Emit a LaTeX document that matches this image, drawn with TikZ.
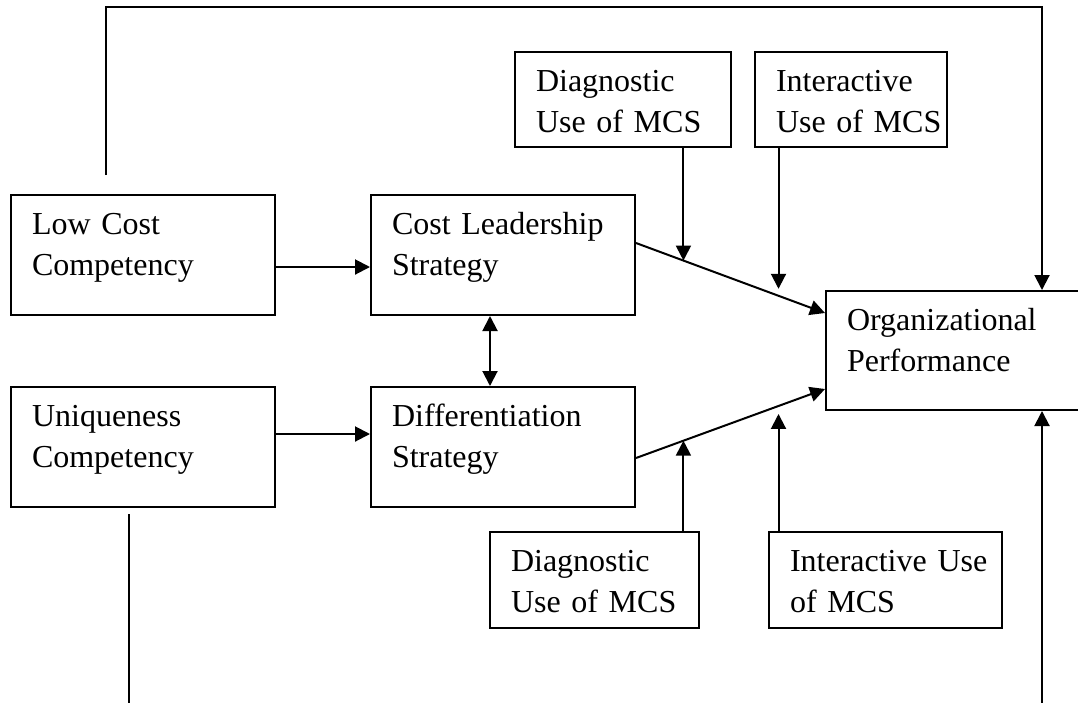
\documentclass[tikz,border=0pt]{standalone}
\usepackage{fontspec}
\setmainfont{Liberation Serif}
\usetikzlibrary{arrows.meta, calc}

\begin{document}
\begin{tikzpicture}[x=1pt, y=-1pt,
  box/.style={draw, line width=2pt, anchor=north west, inner sep=0pt,
    text height=39pt, font=\fontsize{32}{41}\selectfont,
    execute at begin node={\leftskip=21pt}},
  wh/.style 2 args={text width=#1pt, text depth=#2pt-39pt},
  arr/.style={line width=2pt, -{Triangle[length=15pt,width=15pt]}},
  darr/.style={line width=2pt, {Triangle[length=15pt,width=15pt]}-{Triangle[length=15pt,width=15pt]}}]
  \useasboundingbox (0,0) rectangle (1078,702);
  % Kompetenzen und Strategien
  \node[box, wh={264}{120}] (lowcost) at (10,194) {Low Cost\\Competency};
  \node[box, wh={264}{120}] (unique) at (10,386) {Uniqueness\\Competency};
  \node[box, wh={264}{120}] (costlead) at (370,194) {Cost Leadership\\Strategy};
  \node[box, wh={264}{120}] (diff) at (370,386) {Differentiation\\Strategy};
  % MCS
  \node[box, wh={216}{95}] (diagtop) at (514,51) {Diagnostic\\Use of MCS};
  \node[box, wh={192}{95}] (intertop) at (754,51) {Interactive\\Use of MCS};
  \node[box, wh={209}{96}] (diagbot) at (489,531) {Diagnostic\\Use of MCS};
  \node[box, wh={233}{96}] (interbot) at (768,531) {Interactive Use\\of MCS};
  % Performance
  \node[box, wh={270}{119}] (org) at (825,290) {Organizational\\Performance};

  \draw[arr] ([yshift=-12pt]lowcost.east) -- ([yshift=-12pt]costlead.west);
  \draw[arr] ([yshift=13pt]unique.east) -- ([yshift=13pt]diff.west);
  \draw[darr] ([xshift=-13pt]costlead.south) -- ([xshift=-13pt]diff.north);

  \draw[arr] ([yshift=12pt]costlead.east) -- ([yshift=-23pt]org.north west)
    coordinate[pos=0.251] (m1) coordinate[pos=0.754] (m2);
  \draw[arr] (diagtop.south -| m1) -- (m1);
  \draw[arr] (intertop.south -| m2) -- ([yshift=7pt]m2);
  \draw[arr] ([yshift=-11pt]diff.east) -- ([yshift=22pt]org.south west)
    coordinate[pos=0.251] (m3) coordinate[pos=0.754] (m4);
  \draw[arr] (diagbot.north -| m3) -- (m3);
  \draw[arr] (interbot.north -| m4) -- ([yshift=-8pt]m4);

  % Rueckkopplung
  \coordinate (fbtop) at ([xshift=96pt,yshift=19pt]lowcost.north west);
  \draw[arr] (fbtop) -- (fbtop |- 0,7) -| ([xshift=217pt]org.north west);
  \coordinate (fbbot) at ([xshift=119pt,yshift=-6pt]unique.south west);
  \draw[arr] (fbbot) -- (fbbot |- 0,730) -| ([xshift=217pt]org.south west);
\end{tikzpicture}
\end{document}
